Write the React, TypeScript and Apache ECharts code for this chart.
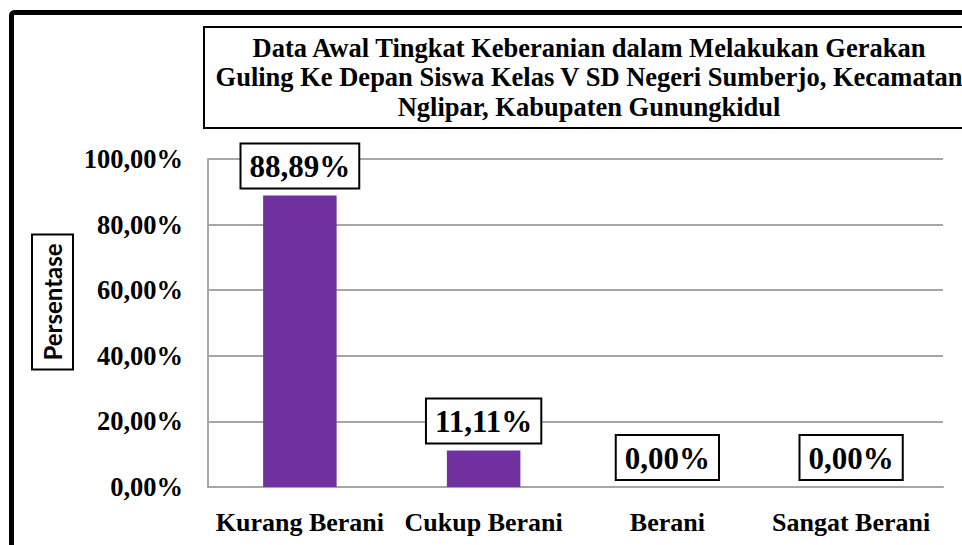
import React, { useEffect, useRef } from "react";
import * as echarts from "echarts";

const categories = ["Kurang Berani", "Cukup Berani", "Berani", "Sangat Berani"];
const values = [88.89, 11.11, 0, 0];
const titleLines = [
  "Data Awal Tingkat Keberanian dalam Melakukan Gerakan",
  "Guling Ke Depan Siswa Kelas V SD Negeri Sumberjo, Kecamatan",
  "Nglipar, Kabupaten Gunungkidul",
];
const yAxisName = "Persentase";

const fmt = (v: number) => v.toFixed(2).replace(".", ",") + "%";
const SERIF = "'Liberation Serif', 'Times New Roman', Times, serif";

export default function App() {
  const ref = useRef<HTMLDivElement>(null);
  useEffect(() => {
    if (!ref.current) return;
    const chart = echarts.init(ref.current, null, { renderer: "svg" });
    chart.setOption({
      animation: false,
      backgroundColor: "#fff",
      title: {
        text: titleLines.join("\n"),
        left: 589,
        top: 33,
        textAlign: "center",
        padding: 0,
        textStyle: {
          fontFamily: SERIF,
          fontWeight: "bold",
          fontSize: 26.5,
          lineHeight: 29.5,
          color: "#000",
        },
      },
      graphic: [
        {
          type: "rect",
          shape: { x: 11.5, y: 12.5, width: 1200, height: 900, r: 3 },
          style: { fill: "none", stroke: "#000", lineWidth: 5 },
          silent: true,
        },
        {
          type: "rect",
          shape: { x: 204, y: 27, width: 900, height: 101 },
          style: { fill: "none", stroke: "#000", lineWidth: 2 },
          silent: true,
        },
        {
          type: "text",
          x: 52.5,
          y: 302,
          rotation: Math.PI / 2,
          style: {
            text: yAxisName,
            fontFamily: "Lato",
            fontWeight: "bold",
            fontSize: 24,
            fill: "#000",
            align: "center",
            verticalAlign: "middle",
            lineHeight: 29,
            padding: [5, 8, 5, 8],
            borderColor: "#000",
            borderWidth: 2,
            backgroundColor: "#fff",
          },
          silent: true,
        },
      ],
      grid: { left: 208, right: 19, top: 159, bottom: 58, containLabel: false },
      xAxis: {
        type: "category",
        data: categories,
        axisLine: { show: true, lineStyle: { color: "#a6a6a6", width: 2 } },
        axisTick: { show: false },
        axisLabel: {
          interval: 0,
          color: "#000",
          fontFamily: SERIF,
          fontWeight: "bold",
          fontSize: 26,
          lineHeight: 26,
          margin: 22,
        },
      },
      yAxis: {
        type: "value",
        min: 0,
        max: 100,
        interval: 20,
        axisLine: { show: true, lineStyle: { color: "#a6a6a6", width: 2 } },
        axisTick: { show: false },
        splitLine: { show: true, lineStyle: { color: "#a6a6a6", width: 2 } },
        axisLabel: {
          color: "#000",
          fontFamily: SERIF,
          fontWeight: "bold",
          fontSize: 26.5,
          margin: 25,
          formatter: (v: number) => fmt(v),
        },
      },
      series: [
        {
          type: "bar",
          data: values,
          barWidth: "40%",
          itemStyle: { color: "#7030A0" },
          label: {
            show: true,
            position: "top",
            distance: 8,
            formatter: (p: any) => fmt(p.value),
            color: "#000",
            fontFamily: SERIF,
            fontWeight: "bold",
            fontSize: 31,
            lineHeight: 38,
            padding: [3, 8, 2, 8],
            borderColor: "#000",
            borderWidth: 2,
            backgroundColor: "#fff",
          },
        },
      ],
    });
    return () => chart.dispose();
  }, []);
  return (
    <div
      ref={ref}
      style={{ position: "fixed", left: 0, top: 0, width: 962, height: 545 }}
    />
  );
}
